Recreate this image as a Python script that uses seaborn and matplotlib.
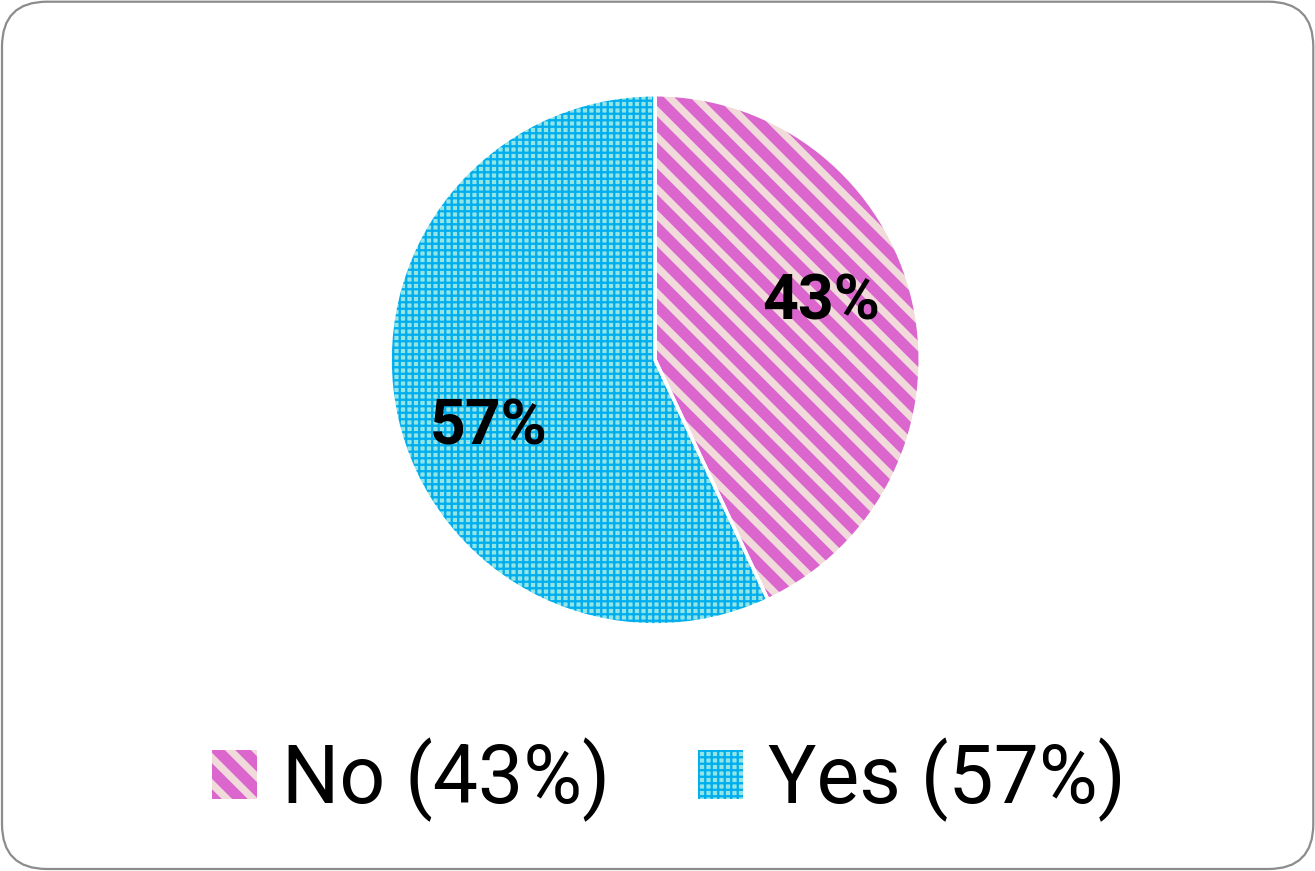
import numpy as np
import matplotlib
matplotlib.use("Agg")
import matplotlib.pyplot as plt
import seaborn as sns
from matplotlib.patches import Patch, FancyBboxPatch

categories = ["No", "Yes"]
values = [43, 57]
legend_labels = ["No (43%)", "Yes (57%)"]
face_colors = ["#DA66CE", "#93E4E4"]
hatch_colors = ["#F0DADA", "#00AEEF"]
hatches = ["\\\\", "++++"]
hatch_widths = [3.4, 1.05]

sns.set_theme(style="white")
plt.rcParams["font.family"] = ["Roboto", "DejaVu Sans"]
plt.rcParams["text.color"] = "black"

DPI = 156
S = 100 / DPI  # point scale relative to 100 dpi design
W, H = 1315, 871
fig = plt.figure(figsize=((W + 0.3) / DPI, (H + 0.3) / DPI), dpi=DPI)
fig.patch.set_facecolor("white")

# border
bax = fig.add_axes([0, 0, 1, 1])
bax.set_xlim(0, W)
bax.set_ylim(0, H)
bax.axis("off")
bax.add_patch(FancyBboxPatch((2, 2), W - 4, H - 4,
                             boxstyle="round,pad=0,rounding_size=45",
                             fc="white", ec="#8C8C8C", lw=1.6 * S))

cx, cy, r = 655, 360, 265
ax = fig.add_axes([(cx - r) / W, (H - cy - r) / H, 2 * r / W, 2 * r / H])


def apply_hatch(patch, hw):
    if hasattr(patch, "set_hatch_linewidth"):
        patch.set_hatch_linewidth(hw)


wedges, _ = ax.pie(values, startangle=90, counterclock=False, radius=1,
                   colors=face_colors)
for w, hc, ht, hw in zip(wedges, hatch_colors, hatches, hatch_widths):
    w.set_hatch(ht)
    w.set_edgecolor(hc)
    w.set_linewidth(0)
    apply_hatch(w, hw)
sep, _ = ax.pie(values, startangle=90, counterclock=False, radius=1,
                wedgeprops=dict(fill=False, edgecolor="white", linewidth=2.5 * S))
for s in sep:
    s.set_zorder(3)

ax.set_xlim(-1, 1)
ax.set_ylim(-1, 1)
ax.set_aspect("equal")
ax.axis("off")

for w, v in zip(wedges, values):
    mid = np.deg2rad((w.theta1 + w.theta2) / 2 + 8)
    ax.text(0.67 * np.cos(mid), 0.67 * np.sin(mid) - 0.02, f"{v}%",
            ha="center", va="center", fontsize=45 * S, fontweight="bold",
            color="black", zorder=5)

handles = [Patch(facecolor=fc, edgecolor=hc, hatch=ht, linewidth=0)
           for fc, hc, ht in zip(face_colors, hatch_colors, hatches)]
leg = fig.legend(handles, legend_labels, loc="center",
                 bbox_to_anchor=(669 / W, 1 - 780 / H),
                 ncol=2, frameon=False, fontsize=58 * S, handlelength=0.56,
                 handleheight=0.56, handletextpad=0.31, columnspacing=1.09,
                 borderaxespad=0)
for t in leg.get_texts():
    t.set_color("black")
for p, hw in zip(leg.get_patches(), hatch_widths):
    apply_hatch(p, hw)

fig.savefig("out.png", dpi=DPI)
